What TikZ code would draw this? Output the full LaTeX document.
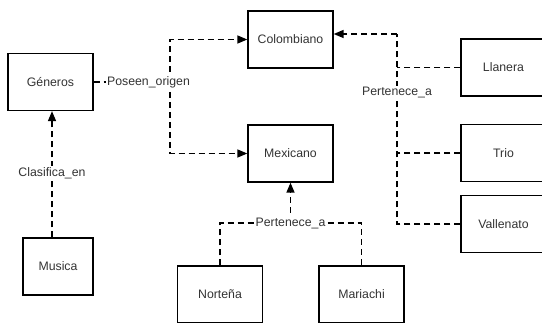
\documentclass[tikz,border=0pt]{standalone}
\usepackage{fontspec}
\setmainfont{Liberation Sans}
\usetikzlibrary{arrows.meta,calc}
\definecolor{ink}{rgb}{0.2,0.2,0.2}
\begin{document}
\begin{tikzpicture}[x=1pt,y=-1pt,
  box/.style={draw=black,line width=1.3pt,minimum width=85pt,minimum height=57pt,
    inner sep=0pt,text=ink,font=\fontsize{12.3}{14}\selectfont},
  link/.style={draw=black,line width=1.4pt,dash pattern=on 6pt off 4pt},
  tip/.style={-{Triangle[length=10pt,width=8pt]}},
  lbl/.style={fill=white,text=ink,inner sep=1pt,font=\fontsize{12.3}{14}\selectfont}]
\useasboundingbox (0,0) rectangle (542,323);
% entities
\node[box] (generos) at (50.5,82) {Géneros};
\node[box,minimum width=70pt] (musica) at (58,266.5) {Musica};
\node[box] (colombiano) at (290.5,39.5) {Colombiano};
\node[box] (mexicano) at (290.5,153.5) {Mexicano};
\node[box] (nortena) at (220,294.5) {Norteña};
\node[box] (mariachi) at (361.5,294.5) {Mariachi};
\node[box] (llanera) at (503.5,67.5) {Llanera};
\node[box] (trio) at (503.5,153) {Trio};
\node[box] (vallenato) at (503.5,224) {Vallenato};
% junction and label points
\coordinate (jo) at (170,82);
\coordinate (jc) at (397,34);
\coordinate (jm) at (290.5,223);
\coordinate (jg) at (52,173);
% Musica -> Generos
\draw[link,tip] (musica.north -| jg) -- (generos.south -| jg);
\node[lbl] (clas) at (jg) {Clasifica\_en};
% Generos -> origins
\draw[link] (generos.east) -- (jo);
\draw[link,tip] (jo) |- (colombiano.west);
\draw[link,tip] (jo) |- (mexicano.west);
\node[lbl] (pos) at (148.5,82) {Poseen\_origen};
% Colombian genres
\draw[link] (vallenato.west) -| (jc);
\draw[link,tip] (jc) -- (colombiano.east |- jc);
\draw[link] (llanera.west) -- (llanera.west -| jc);
\draw[link] (trio.west) -- (trio.west -| jc);
\node[lbl] (perc) at (397,92) {Pertenece\_a};
% Mexican genres
\draw[link] (nortena.north) |- (jm) -| (mariachi.north);
\draw[link,tip] (jm) -- (mexicano.south);
\node[lbl] (perm) at (jm) {Pertenece\_a};
\end{tikzpicture}
\end{document}
